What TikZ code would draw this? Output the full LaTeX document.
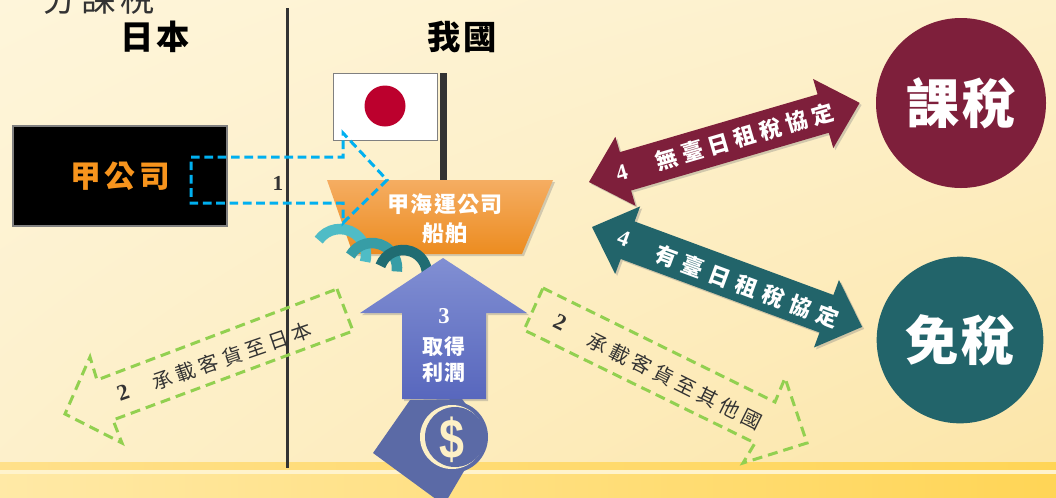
\documentclass[tikz,border=0pt]{standalone}
\usepackage{fontspec}
\setmainfont{Liberation Serif}
\newfontfamily\cjk{Noto Sans CJK TC}
\newfontfamily\sans{Liberation Sans}
\usetikzlibrary{shadows, shadings}

% extra room between consecutive ideographs
\newlength\cjkgap
\count255="4E00
\loop
  \XeTeXcharclass\count255=7
  \ifnum\count255<"9FFF \advance\count255 by 1
\repeat
\XeTeXinterchartokenstate=1
\XeTeXinterchartoks 7 7 = {\hskip\cjkgap\relax}

\definecolor{bgtop}{HTML}{FEF5DA}
\definecolor{bgmid}{HTML}{FDF0CA}
\definecolor{bgbottom}{HTML}{FCE5A6}
\definecolor{band}{HTML}{FFE08A}
\definecolor{bandright}{HTML}{FFD556}
\definecolor{bandlight}{HTML}{FFF3CC}
\definecolor{bandlow}{HTML}{FFE9A6}
\definecolor{ink}{HTML}{333333}
\definecolor{wine}{HTML}{7E1F3B}
\definecolor{petrol}{HTML}{22646A}
\definecolor{skyline}{HTML}{00B0F0}
\definecolor{leaf}{HTML}{92D050}
\definecolor{sunrise}{HTML}{BC002D}
\definecolor{shiptop}{HTML}{F5AD62}
\definecolor{shipbottom}{HTML}{EC8C20}
\definecolor{profittop}{HTML}{818FD3}
\definecolor{profitbottom}{HTML}{5867BD}
\definecolor{note}{HTML}{5B6AA6}
\definecolor{money}{HTML}{FDF0C6}
\definecolor{wavea}{HTML}{4FBCC6}
\definecolor{waveb}{HTML}{379DA6}
\definecolor{wavec}{HTML}{206C72}
\definecolor{orangetext}{HTML}{F7941D}

\begin{document}
\begin{tikzpicture}[x=0.75pt, y=-0.75pt,
    every node/.style={inner sep=0pt, outer sep=0pt},
    cjk/.style 2 args={font={\cjk\bfseries\fontsize{#1}{#1}\selectfont\setlength\cjkgap{#2}}},
    numeral/.style={font={\bfseries\fontsize{#1}{#1}\selectfont}},
    shadowed/.style={drop shadow={opacity=0.35, shadow xshift=1.5pt, shadow yshift=-1.5pt}},
    route/.style={draw=leaf, line width=2.25pt, dash pattern=on 7.5pt off 4.5pt},
    routetext/.style={font={\cjk\fontsize{15pt}{15pt}\selectfont\setlength\cjkgap{3.4pt}}, text=ink},
    wave/.style={line width=7.9pt}]
    \useasboundingbox (0,0) rectangle (1056,497);
    \clip (0,0) rectangle (1056,497);
    % background and floor band
    \shade[upper left=bgtop, upper right=bgmid, lower left=bgmid, lower right=bgbottom] (0,0) rectangle (1056,497);
    \shade[left color=band, right color=bandright] (0,462) rectangle (1056,470);
    \fill[bandlight] (0,470) rectangle (1056,474);
    \shade[left color=bandlow, right color=bandright] (0,474) rectangle (1056,497);
    %
    \coordinate (bordertop) at (287,8);
    \coordinate (borderbottom) at (287,468);
    \draw[ink, line width=2.25pt] (bordertop) -- (borderbottom);
    %
    \node (topic) [font={\cjk\fontsize{26pt}{26pt}\selectfont\setlength\cjkgap{3.5pt}}, text=ink, anchor=west] at (42,-2) {分課稅};
    \node (japan) [cjk={25pt}{1.5pt}] at (155,37) {日本};
    \node (home) [cjk={25pt}{1.5pt}] at (462,37) {我國};
    %
    \node (parent) [fill=black, draw=gray, line width=1.5pt, minimum width=160pt, minimum height=75pt,
        cjk={23pt}{3pt}, text=orangetext] at (120,176) {甲公司};
    %
    % flag on the mast
    \draw[gray, fill=white, line width=0.75pt] (333,73) rectangle (437,140);
    \fill[sunrise] (385,106) circle[radius=20.5];
    \fill[ink] (440,73) rectangle (447,182);
    %
    \shade[top color=shiptop, bottom color=shipbottom, shadowed] (327,180) -- (553,180) -- (522,254) -- (353,254) -- cycle;
    \node (ship) [font={\cjk\bfseries\fontsize{16.5pt}{21.75pt}\selectfont\setlength\cjkgap{1pt}}, text=white, align=center] at (445,219) {甲海運公司\\船舶};
    %
    \draw[wavea, wave] (340,255) ++(215:26) arc[start angle=215, end angle=375, radius=26];
    \draw[waveb, wave] (372,268) ++(210:25) arc[start angle=210, end angle=368, radius=25];
    \draw[wavec, wave] (403,274) ++(200:24) arc[start angle=200, end angle=360, radius=24];
    %
    \draw[skyline, line width=2.25pt, dash pattern=on 6.5pt off 3.5pt] (191,157) -- (343,157) -- (343,133) -- (387,180) -- (343,223) -- (343,203) -- (191,203) -- cycle;
    \node (order) [numeral=16pt, text=ink] at (278,183) {1};
    %
    \shade[top color=profittop, bottom color=profitbottom, shadowed] (443,258) -- (527,313) -- (486,313) -- (486,399) -- (402,399) -- (402,313) -- (360,313) -- cycle;
    \node (profitno) [numeral=17pt, text=white] at (444,316) {3};
    \node (profit) [font={\cjk\bfseries\fontsize{15.75pt}{19.5pt}\selectfont\setlength\cjkgap{1pt}}, text=white, align=center] at (444,360) {取得\\利潤};
    %
    % banknote and coin
    \fill[note] (373,453) -- (410,400) -- (462,399) -- (487,432) -- (444,505) -- cycle;
    \fill[note] (452,437) circle[radius=36];
    \fill[money] (452,437) circle[radius=32];
    \fill[note] (455,437) circle[radius=30];
    \node (dollar) [font={\sans\bfseries\fontsize{42pt}{42pt}\selectfont}, text=money] at (452,440) {\scalebox{0.8}[1]{\$}};
    %
    % cargo routes
    \draw[route] (337,289) -- (353,331) -- (113,420) -- (122,443) -- (65,414) -- (90,357) -- (97,380) -- cycle;
    \node (routejpno) [numeral=17pt, text=ink, rotate=19] at (123,393) {2};
    \node (routejp) [routetext, rotate=19] at (232,356) {承載客貨至日本};
    \draw[route] (543,288) -- (775,402) -- (785,378) -- (807,443) -- (743,463) -- (755,443) -- (524,330) -- cycle;
    \node (routeotherno) [numeral=17pt, text=ink, rotate=-26.5] at (560,322) {2};
    \node (routeother) [routetext, rotate=-26.5] at (675,381) {承載客貨至其他國};
    %
    % treaty arrows
    \begin{scope}[shift={(589,182)}, rotate=16.3, transform shape]
        \fill[wine, shadowed] (0,0) -- (38,-36) -- (38,-20) -- (244,-20) -- (244,-36) -- (282,0) -- (244,36) -- (244,20) -- (38,20) -- (38,36) -- cycle;
        \node (notreatyno) [numeral=17pt, text=white] at (34,0) {4};
        \node (notreaty) [cjk={16.5pt}{3.75pt}, text=white] at (162,0) {無臺日租稅協定};
    \end{scope}
    \begin{scope}[shift={(592,227)}, rotate=-20.3, transform shape]
        \fill[petrol, shadowed] (0,0) -- (38,-36) -- (38,-20) -- (250,-20) -- (250,-36) -- (288,0) -- (250,36) -- (250,20) -- (38,20) -- (38,36) -- cycle;
        \node (treatyno) [numeral=17pt, text=white] at (34,0) {4};
        \node (treaty) [cjk={16.5pt}{5pt}, text=white] at (166,2) {有臺日租稅協定};
    \end{scope}
    %
    \node (levy) [circle, fill=wine, minimum size=127.5pt, cjk={40pt}{2.5pt}, text=white] at (961,103) {課稅};
    \node (exempt) [circle, fill=petrol, minimum size=125pt, cjk={40pt}{2.5pt}, text=white] at (960,340) {免稅};
\end{tikzpicture}
\end{document}
